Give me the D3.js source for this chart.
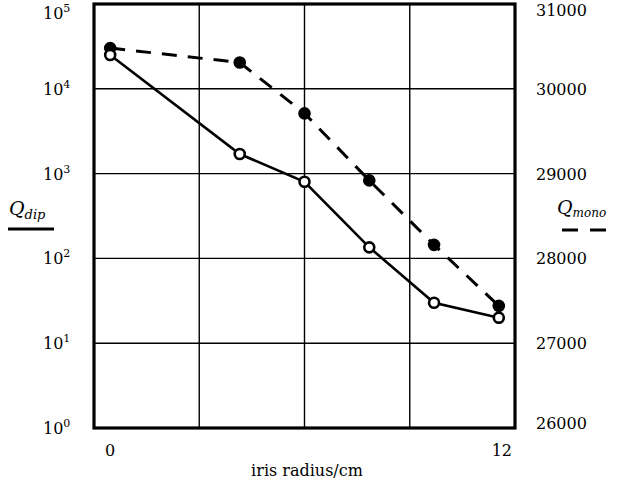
<!DOCTYPE html>
<html>
<head>
<meta charset="utf-8">
<script src="https://cdn.jsdelivr.net/npm/d3@7"></script>
<style>
  body { margin: 0; background: #fff; }
</style>
</head>
<body>
<div id="chart"></div>
<script>
// data
let radius = [0, 4, 6, 8, 10, 12];
let qDip = [25000, 1700, 800, 135, 30, 20];
let qMono = [30480, 30310, 29710, 28920, 28160, 27440];

let leftTicks = [1, 10, 100, 1000, 10000, 100000];
let leftExp = ["0", "1", "2", "3", "4", "5"];
let rightTicks = [26000, 27000, 28000, 29000, 30000, 31000];
let xTicks = [0, 12];
let gridX = [2.75, 6, 9.25];

let w = 620, h = 484;
let pLeft = 94, pRight = 515, pTop = 4, pBottom = 428;
let serif = "'DejaVu Serif'";

let svg = d3.select("#chart")
  .append("svg")
    .attr("width", w)
    .attr("height", h);

let x = d3.scaleLinear().domain([-0.5, 12.5]).range([pLeft, pRight]);
let yDip = d3.scaleLog().domain([1, 100000]).range([pBottom, pTop]);
let yMono = d3.scaleLinear().domain([26000, 31000]).range([pBottom, pTop]);

// grid
svg.append("g")
  .selectAll("line")
  .data(gridX)
  .enter().append("line")
    .attr("x1", d => x(d)).attr("x2", d => x(d))
    .attr("y1", pTop).attr("y2", pBottom)
    .attr("stroke", "#000").attr("stroke-width", 1.4);

svg.append("g")
  .selectAll("line")
  .data(leftTicks.slice(1, -1))
  .enter().append("line")
    .attr("x1", pLeft).attr("x2", pRight)
    .attr("y1", d => yDip(d)).attr("y2", d => yDip(d))
    .attr("stroke", "#000").attr("stroke-width", 1.4);

// frame
svg.append("rect")
  .attr("x", pLeft).attr("y", pTop)
  .attr("width", pRight - pLeft).attr("height", pBottom - pTop)
  .attr("fill", "none")
  .attr("stroke", "#000")
  .attr("stroke-width", 3.2);

// left axis labels  10^n
let lt = svg.append("g").selectAll("text")
  .data(leftTicks)
  .enter().append("text")
    .style("font-family", serif)
    .attr("x", 43)
    .attr("y", (d, i) => Math.max(yDip(d) + 6, 19))
    .attr("font-size", 16);
lt.append("tspan").text("10");
lt.append("tspan")
  .attr("dy", -7)
  .attr("font-size", 11)
  .text((d, i) => leftExp[i]);

// right axis labels
svg.append("g").selectAll("text")
  .data(rightTicks)
  .enter().append("text")
    .style("font-family", serif)
    .attr("x", 536)
    .attr("y", d => Math.min(Math.max(yMono(d) + 6, 16), 429))
    .attr("font-size", 16)
    .text(d => d);

// x labels
svg.append("g").selectAll("text")
  .data(xTicks)
  .enter().append("text")
    .style("font-family", serif)
    .attr("x", d => x(d) + (d === 12 ? 3 : 0))
    .attr("y", 456)
    .attr("text-anchor", "middle")
    .attr("font-size", 16)
    .text(d => d);

svg.append("text")
  .style("font-family", serif)
  .attr("x", 307)
  .attr("y", 476)
  .attr("text-anchor", "middle")
  .attr("font-size", 16)
  .text("iris radius/cm");

// series lines
let lineDip = d3.line()
  .x((d, i) => x(radius[i]))
  .y(d => yDip(d));
let lineMono = d3.line()
  .x((d, i) => x(radius[i]))
  .y(d => yMono(d));

svg.append("path")
  .datum(qMono)
  .attr("d", lineMono)
  .attr("fill", "none")
  .attr("stroke", "#000")
  .attr("stroke-width", 3)
  .attr("stroke-dasharray", "15,11");

svg.append("path")
  .datum(qDip)
  .attr("d", lineDip)
  .attr("fill", "none")
  .attr("stroke", "#000")
  .attr("stroke-width", 2.6);

// markers: filled for Q_mono, open for Q_dip
svg.append("g").selectAll("circle")
  .data(qMono)
  .enter().append("circle")
    .attr("cx", (d, i) => x(radius[i]))
    .attr("cy", d => yMono(d))
    .attr("r", 6.3)
    .attr("fill", "#000");

svg.append("g").selectAll("circle")
  .data(qDip)
  .enter().append("circle")
    .attr("cx", (d, i) => x(radius[i]))
    .attr("cy", d => yDip(d))
    .attr("r", 5)
    .attr("fill", "#fff")
    .attr("stroke", "#000")
    .attr("stroke-width", 2.6);

// axis titles with line-style keys
let qd = svg.append("text")
  .style("font-family", serif)
  .attr("x", 9)
  .attr("y", 215)
  .attr("font-style", "italic")
  .attr("font-size", 19);
qd.append("tspan").text("Q");
qd.append("tspan").attr("dy", 4).attr("font-size", 13).text("dip");

svg.append("line")
  .attr("x1", 8).attr("x2", 54)
  .attr("y1", 229).attr("y2", 229)
  .attr("stroke", "#000").attr("stroke-width", 2.8);

let qm = svg.append("text")
  .style("font-family", serif)
  .attr("x", 557)
  .attr("y", 214)
  .attr("font-style", "italic")
  .attr("font-size", 19);
qm.append("tspan").text("Q");
qm.append("tspan").attr("dy", 3).attr("font-size", 12).text("mono");

svg.append("line")
  .attr("x1", 562).attr("x2", 608)
  .attr("y1", 230).attr("y2", 230)
  .attr("stroke", "#000").attr("stroke-width", 3)
  .attr("stroke-dasharray", "16,12");
</script>
</body>
</html>
